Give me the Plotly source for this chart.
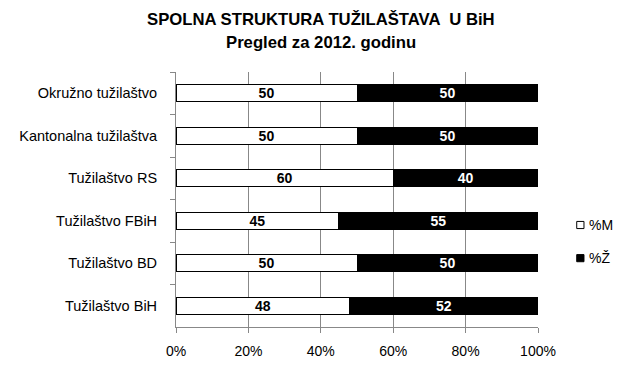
import plotly.graph_objects as go

categories = ["Okružno tužilaštvo", "Kantonalna tužilaštva", "Tužilaštvo RS",
              "Tužilaštvo FBiH", "Tužilaštvo BD", "Tužilaštvo BiH"]
pct_m = [50, 50, 60, 45, 50, 48]
pct_z = [50, 50, 40, 55, 50, 52]
x_ticks = [0, 20, 40, 60, 80, 100]
x_tick_labels = ["0%", "20%", "40%", "60%", "80%", "100%"]
legend_names = ["%M", "%Ž"]
legend_colors = ["white", "black"]
title_lines = ["SPOLNA STRUKTURA TUŽILAŠTAVA  U BiH", "Pregled za 2012. godinu"]

label_font = "Liberation Sans Narrow, Arial Narrow, Liberation Sans, Arial"
main_font = "Liberation Sans, Arial"

fig = go.Figure()
fig.add_trace(go.Bar(
    y=categories, x=pct_m, orientation="h", name=legend_names[0],
    marker=dict(color=legend_colors[0], line=dict(color="black", width=1)),
    text=[str(v) for v in pct_m], textposition="inside", insidetextanchor="middle",
    textangle=0,
    textfont=dict(family=label_font, size=14, color="black", weight="bold"),
    constraintext="none", hoverinfo="skip", showlegend=False,
))
fig.add_trace(go.Bar(
    y=categories, x=pct_z, orientation="h", name=legend_names[1],
    marker=dict(color=legend_colors[1], line=dict(color="black", width=1)),
    text=[str(v) for v in pct_z], textposition="inside", insidetextanchor="middle",
    textangle=0,
    textfont=dict(family=label_font, size=14, color="white", weight="bold"),
    constraintext="none", hoverinfo="skip", showlegend=False,
))

# manual legend (squares + labels) at the right
legend_y = [0.40, 0.27]  # paper fractions of the plot area
for name, col, ly in zip(legend_names, legend_colors, legend_y):
    fig.add_shape(type="rect", xref="paper", yref="paper",
                  x0=1.107, x1=1.127, y0=ly - 0.014, y1=ly + 0.014,
                  fillcolor=col, line=dict(color="black", width=1))
    fig.add_annotation(x=1.135, y=ly, xref="paper", yref="paper", text=name,
                       showarrow=False, xanchor="left", yanchor="middle",
                       font=dict(family=main_font, size=14, color="black"))

# title as two centred lines
for line, ty in zip(title_lines, [1.204, 1.114]):
    fig.add_annotation(x=0.40, y=ty, xref="paper", yref="paper",
                       text="<b>" + line + "</b>", showarrow=False,
                       xanchor="center", yanchor="middle",
                       font=dict(family=main_font, size=16.7, color="black"))

fig.update_layout(
    width=638, height=378,
    barmode="stack", bargap=0.6,
    paper_bgcolor="white", plot_bgcolor="white",
    margin=dict(l=176, r=100, t=72, b=51),
    font=dict(family=main_font, size=14, color="black"),
    xaxis=dict(
        range=[0, 100], tickvals=x_ticks, ticktext=x_tick_labels,
        showgrid=True, gridcolor="#888888", gridwidth=1,
        zeroline=False, showline=True, linecolor="#888888",
        ticks="outside", ticklen=5, tickcolor="#888888",
        tickfont=dict(size=14), fixedrange=True, automargin=False,
        ticklabelstandoff=6,
    ),
    yaxis=dict(
        categoryorder="array", categoryarray=categories, autorange="reversed",
        showline=True, linecolor="#888888", ticks="outside", ticklen=5,
        tickcolor="#888888", tickson="boundaries", showgrid=False,
        tickfont=dict(size=14.5), ticklabelstandoff=15, automargin=False,
        fixedrange=True,
    ),
    showlegend=False,
)

fig.write_html("out.html", config={"displayModeBar": False},
               post_script="document.body.style.margin='0';")
